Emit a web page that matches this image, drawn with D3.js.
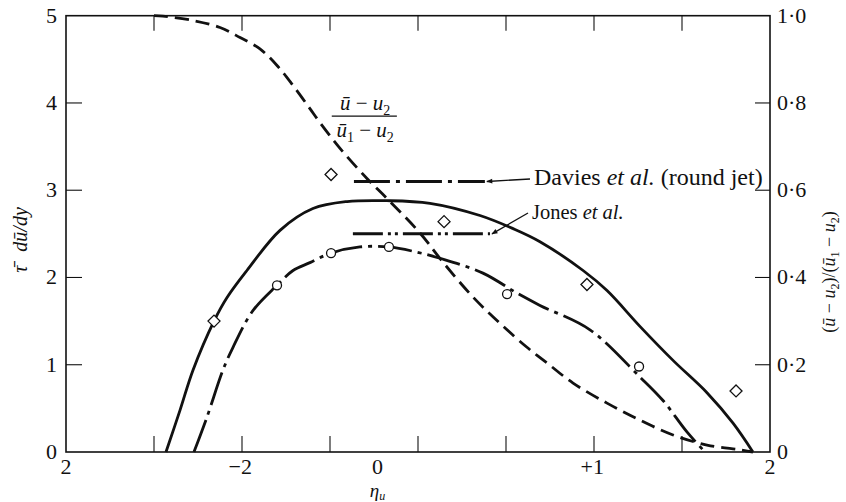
<!DOCTYPE html>
<html>
<head>
<meta charset="utf-8">
<script src="https://cdn.jsdelivr.net/npm/d3@7/dist/d3.min.js"></script>
<style>
  html, body { margin: 0; padding: 0; background: #fff; }
  svg { display: block; }
  text { font-family: "Liberation Serif", "DejaVu Serif", serif; fill: #111; }
  .it { font-style: italic; }
</style>
</head>
<body>
<svg id="chart" width="846" height="502"></svg>
<script>
// Shear-stress profile (left axis) for two layers, plus mean-velocity profile (right axis)
const tauSolid = [
  [-0.932, 0], [-0.852, 0.48], [-0.778, 0.94], [-0.659, 1.50], [-0.585, 1.77],
  [-0.472, 2.08], [-0.284, 2.54], [-0.097, 2.79], [0.097, 2.87], [0.324, 2.88],
  [0.568, 2.85], [0.852, 2.71], [1.040, 2.56], [1.193, 2.41], [1.438, 2.08],
  [1.574, 1.85], [1.761, 1.44], [1.949, 1.05], [2.142, 0.68], [2.290, 0.33], [2.403, 0]
];
const tauChain = [
  [-0.773, 0], [-0.699, 0.40], [-0.608, 0.94], [-0.551, 1.20], [-0.438, 1.62],
  [-0.301, 1.91], [-0.210, 2.08], [-0.114, 2.17], [0.006, 2.28], [0.170, 2.35],
  [0.335, 2.35], [0.494, 2.29], [0.625, 2.22], [0.869, 2.05], [1.063, 1.82],
  [1.193, 1.68], [1.477, 1.40], [1.761, 0.86], [1.892, 0.59], [2.028, 0.23], [2.131, 0]
];
const velocity = [
  [-1.0, 1.0], [-0.949, 0.999], [-0.778, 0.989], [-0.625, 0.973], [-0.511, 0.950],
  [-0.398, 0.924], [-0.301, 0.886], [-0.210, 0.840], [-0.114, 0.787], [-0.057, 0.755],
  [0.057, 0.696], [0.210, 0.627], [0.324, 0.581], [0.511, 0.502], [0.642, 0.435],
  [0.813, 0.355], [0.966, 0.295], [1.119, 0.240], [1.233, 0.204], [1.381, 0.158],
  [1.574, 0.112], [1.761, 0.073], [1.949, 0.039], [2.142, 0.016], [2.330, 0.005], [2.403, 0]
];
// Measured points
const diamonds = [[-0.659, 1.50], [0.006, 3.18], [0.648, 2.64], [1.460, 1.92], [2.307, 0.70]];
const circles = [[-0.301, 1.91], [0.006, 2.28], [0.335, 2.35], [1.006, 1.81], [1.756, 0.98]];
// Reference levels from other experiments
const davies = { x0: 0.136, x1: 0.88, y: 3.1, label: ["Davies ", "et al.", " (round jet)"] };
const jones = { x0: 0.13, x1: 0.909, y: 2.5, label: ["Jones ", "et al.", ""] };

// Axis ticks and labels
const xTicks = [-1, -0.5, 0, 0.5, 1, 1.5, 2];
const xTickLabels = [[-1.5, "2"], [-0.51, "\u22122"], [0.27, "0"], [1.49, "+1"], [2.5, "2"]];
const yLeftTicks = [0, 1, 2, 3, 4, 5];
const yRightTicks = [0, 0.2, 0.4, 0.6, 0.8, 1.0];
const yRightLabels = ["0", "0\u00b72", "0\u00b74", "0\u00b76", "0\u00b78", "1\u00b70"];

const svg = d3.select("#chart");
const L = 66, R = 770, T = 15.7, B = 452;
const x = d3.scaleLinear().domain([-1.5, 2.5]).range([L, R]);
const yL = d3.scaleLinear().domain([0, 5]).range([B, T]);
const yR = d3.scaleLinear().domain([0, 1]).range([B, T]);

// Frame
svg.append("rect").attr("x", L).attr("y", T).attr("width", R - L).attr("height", B - T)
  .attr("fill", "none").attr("stroke", "#111").attr("stroke-width", 1.6);

// Inward ticks on all sides
const tickG = svg.append("g").attr("stroke", "#111").attr("stroke-width", 1.1);
xTicks.forEach(v => {
  tickG.append("line").attr("x1", x(v)).attr("x2", x(v)).attr("y1", B).attr("y2", B - 16);
  tickG.append("line").attr("x1", x(v)).attr("x2", x(v)).attr("y1", T).attr("y2", T + 15);
});
yLeftTicks.filter(v => v > 0 && v < 5).forEach(v => {
  tickG.append("line").attr("x1", L).attr("x2", L + 16).attr("y1", yL(v)).attr("y2", yL(v));
});
yRightTicks.filter(v => v > 0 && v < 1).forEach(v => {
  tickG.append("line").attr("x1", R).attr("x2", R - 15).attr("y1", yR(v)).attr("y2", yR(v));
});

// Tick labels
const fs = 22;
xTickLabels.forEach(([v, t]) => {
  svg.append("text").attr("x", x(v)).attr("y", 474).attr("text-anchor", "middle")
    .attr("font-size", fs).text(t);
});
yLeftTicks.forEach(v => {
  svg.append("text").attr("x", 57).attr("y", yL(v) + 7).attr("text-anchor", "end")
    .attr("font-size", fs).text(v);
});
yRightTicks.forEach((v, i) => {
  svg.append("text").attr("x", 777).attr("y", yR(v) + 7).attr("text-anchor", "start")
    .attr("font-size", fs).text(yRightLabels[i]);
});

// Axis titles
const xt = svg.append("text").attr("x", x(0.27)).attr("y", 497).attr("text-anchor", "middle")
  .attr("font-size", 19).attr("class", "it");
xt.append("tspan").text("\u03b7");
xt.append("tspan").attr("font-size", 12).attr("dy", 3).text("u");

const lt = svg.append("text").attr("transform", "translate(27,240) rotate(-90)")
  .attr("text-anchor", "middle").attr("font-size", 20).attr("class", "it");
lt.append("tspan").text("\u03c4\u0304");
lt.append("tspan").attr("dx", 14).text("d\u016b/dy");

const rt = svg.append("text").attr("transform", "translate(835,272) rotate(-90)")
  .attr("text-anchor", "middle").attr("font-size", 18);
rt.append("tspan").text("(");
rt.append("tspan").attr("class", "it").text("\u016b");
rt.append("tspan").text(" \u2212 ");
rt.append("tspan").attr("class", "it").text("u");
rt.append("tspan").attr("font-size", 12).attr("dy", 4).text("2");
rt.append("tspan").attr("dy", -4).text(")/(");
rt.append("tspan").attr("class", "it").text("\u016b");
rt.append("tspan").attr("font-size", 12).attr("dy", 4).text("1");
rt.append("tspan").attr("dy", -4).text(" \u2212 ");
rt.append("tspan").attr("class", "it").text("u");
rt.append("tspan").attr("font-size", 12).attr("dy", 4).text("2");
rt.append("tspan").attr("dy", -4).text(")");

// Curves
const lineL = d3.line().x(d => x(d[0])).y(d => yL(d[1])).curve(d3.curveCatmullRom.alpha(0.5));
const lineR = d3.line().x(d => x(d[0])).y(d => yR(d[1])).curve(d3.curveCatmullRom.alpha(0.5));

svg.append("path").datum(tauSolid).attr("d", lineL).attr("fill", "none")
  .attr("stroke", "#111").attr("stroke-width", 2.8);
svg.append("path").datum(tauChain).attr("d", lineL).attr("fill", "none")
  .attr("stroke", "#111").attr("stroke-width", 2.8).attr("stroke-dasharray", "34,6,4,6");
svg.append("path").datum(velocity).attr("d", lineR).attr("fill", "none")
  .attr("stroke", "#111").attr("stroke-width", 2.8).attr("stroke-dasharray", "14,7");

// Reference levels
svg.append("line").attr("x1", x(davies.x0)).attr("x2", x(davies.x1))
  .attr("y1", yL(davies.y)).attr("y2", yL(davies.y))
  .attr("stroke", "#111").attr("stroke-width", 3).attr("stroke-dasharray", "36,6,4,6");
svg.append("line").attr("x1", x(jones.x0)).attr("x2", x(jones.x1))
  .attr("y1", yL(jones.y)).attr("y2", yL(jones.y))
  .attr("stroke", "#111").attr("stroke-width", 3).attr("stroke-dasharray", "30,5,3,4,3,5");

// Arrow heads
svg.append("defs").append("marker").attr("id", "ah").attr("viewBox", "0 0 10 10")
  .attr("refX", 9).attr("refY", 5).attr("markerWidth", 9).attr("markerHeight", 6)
  .attr("markerUnits", "userSpaceOnUse").attr("orient", "auto")
  .append("path").attr("d", "M0,1 L10,5 L0,9 Z").attr("fill", "#111");

function annotate(ref, tx, ty, size) {
  svg.append("line").attr("x1", tx - 4).attr("y1", ty - 6)
    .attr("x2", x(ref.x1) + 2).attr("y2", yL(ref.y))
    .attr("stroke", "#111").attr("stroke-width", 1.3).attr("marker-end", "url(#ah)");
  const t = svg.append("text").attr("x", tx).attr("y", ty).attr("font-size", size);
  t.append("tspan").text(ref.label[0]);
  t.append("tspan").attr("class", "it").text(ref.label[1]);
  if (ref.label[2]) t.append("tspan").text(ref.label[2]);
}
annotate(davies, 534, 185, 24);
annotate(jones, 532, 219, 20.5);

// Fraction label for the velocity curve
const fx = x(0.2);
const num = svg.append("text").attr("x", fx).attr("y", yL(4.0) + 7).attr("text-anchor", "middle")
  .attr("font-size", 21);
num.append("tspan").attr("class", "it").text("\u016b");
num.append("tspan").text(" \u2212 ");
num.append("tspan").attr("class", "it").text("u");
num.append("tspan").attr("font-size", 14).attr("dy", 5).text("2");
svg.append("line").attr("x1", x(0.01)).attr("x2", x(0.38))
  .attr("y1", yL(3.85)).attr("y2", yL(3.85)).attr("stroke", "#111").attr("stroke-width", 1.2);
const den = svg.append("text").attr("x", fx).attr("y", yL(3.69) + 7).attr("text-anchor", "middle")
  .attr("font-size", 21);
den.append("tspan").attr("class", "it").text("\u016b");
den.append("tspan").attr("font-size", 14).attr("dy", 5).text("1");
den.append("tspan").attr("dy", -5).text(" \u2212 ");
den.append("tspan").attr("class", "it").text("u");
den.append("tspan").attr("font-size", 14).attr("dy", 5).text("2");

// Markers
svg.append("g").selectAll("path").data(diamonds).join("path")
  .attr("d", d => {
    const cx = x(d[0]), cy = yL(d[1]), r = 6;
    return `M${cx},${cy - r}L${cx + r},${cy}L${cx},${cy + r}L${cx - r},${cy}Z`;
  })
  .attr("fill", "#fff").attr("stroke", "#111").attr("stroke-width", 1.3);
svg.append("g").selectAll("circle").data(circles).join("circle")
  .attr("cx", d => x(d[0])).attr("cy", d => yL(d[1])).attr("r", 4.5)
  .attr("fill", "#fff").attr("stroke", "#111").attr("stroke-width", 1.3);
</script>
</body>
</html>
